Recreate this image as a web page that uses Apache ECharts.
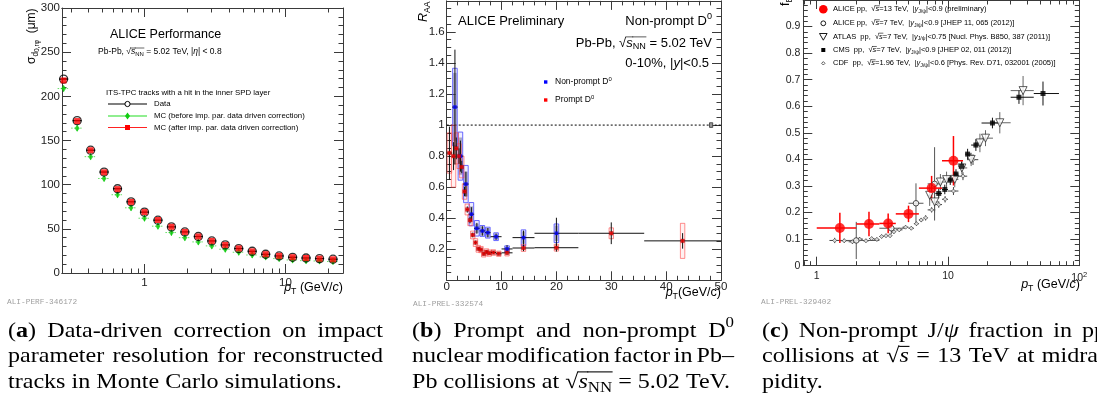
<!DOCTYPE html>
<html><head><meta charset="utf-8">
<script src="https://cdn.jsdelivr.net/npm/echarts@6/dist/echarts.min.js"></script>
<style>html,body{margin:0;padding:0;background:#fff}#c{width:1097px;height:417px}</style>
</head><body><div id="c"></div>
<script>
// ---------------- Panel (a): impact parameter resolution ----------------
const A_PT = [0.267,0.333,0.415,0.517,0.644,0.803,1.0,1.246,1.553,1.934,2.41,3.003,3.742,4.663,5.81,7.24,9.02,11.24,14.0,17.45,21.74];
const A_DATA = [219.5,172.5,139,114.3,95.4,80.6,68.9,59.8,52.2,46.5,41.3,36.3,31.8,27.7,24.6,21.2,19.3,17.8,17.0,16.3,15.6];
const A_MC_AFTER = [218,172,139,114,95,80.5,69,60,52.3,46.5,41.3,36.3,31.8,27.8,24.5,21.3,19.4,17.9,17.0,16.2,15.5];
const A_MC_BEFORE = [208.8,164,131.7,107,88.6,73.8,62,53,45.8,40,35.2,30.7,26.9,23.5,20.4,18.2,16.3,14.8,14.0,13.6,13.0];
const A_X_RANGE = [0.26, 25.6];
const A_X_MAJOR = [1, 10];
const A_X_LABELS = ['1', '10'];
const A_X_MINOR = [0.3,0.4,0.5,0.6,0.7,0.8,0.9,2,3,4,5,6,7,8,9,20];

// ---------------- Panel (b): D0 RAA ----------------
const B_PR_PT = [0.5,1.25,1.75,2.25,2.75,3.25,3.75,4.25,4.75,5.25,5.75,6.25,6.75,7.25,7.75,8.5,9.5,11,14,20,30,43];
const B_PR_LO = [0,1,1.5,2,2.5,3,3.5,4,4.5,5,5.5,6,6.5,7,7.5,8,9,10,12,16,24,36];
const B_PR_HI = [1,1.5,2,2.5,3,3.5,4,4.5,5,5.5,6,6.5,7,7.5,8,9,10,12,16,24,36,50];
const B_PR_R = [0.82,0.80,0.85,0.80,0.73,0.572,0.456,0.387,0.292,0.243,0.203,0.198,0.17,0.183,0.175,0.179,0.171,0.177,0.208,0.21,0.303,0.254];
const B_PR_STAT = [0.17,0.09,0.07,0.05,0.04,0.03,0.02,0.02,0.015,0.012,0.01,0.01,0.01,0.01,0.01,0.01,0.01,0.012,0.02,0.025,0.07,0.05];
const B_PR_SYS = [0.13,0.2,0.1,0.08,0.07,0.05,0.035,0.035,0.025,0.025,0.022,0.02,0.02,0.02,0.02,0.018,0.017,0.02,0.022,0.022,0.035,0.113];
const B_NP_PT = [1.5,2.5,3.5,4.5,5.5,6.5,7.5,9,11,14,20];
const B_NP_LO = [1,2,3,4,5,6,7,8,10,12,16];
const B_NP_HI = [2,3,4,5,6,7,8,10,12,16,24];
const B_NP_R = [1.116,0.80,0.62,0.426,0.335,0.318,0.307,0.281,0.202,0.275,0.303];
const B_NP_STAT = [0.37,0.1,0.08,0.045,0.035,0.03,0.03,0.02,0.025,0.045,0.1];
const B_NP_SYS = [0.25,0.155,0.12,0.075,0.05,0.035,0.035,0.025,0.02,0.05,0.06];
const B_NP_SYS2 = [0.22,0.12,0.08,0.05,0.03,0.03,0.03,0.02,0.015,0.04,0.05];
const B_NORM = {pt: 48.2, unc: 0.015};

// ---------------- Panel (c): non-prompt J/psi fraction ----------------
const C_X_RANGE = [0.79, 100];
const C_X_MAJOR = [1, 10, 100];
const C_X_MINOR = [0.8,0.9,2,3,4,5,6,7,8,9,20,30,40,50,60,70,80,90];
const C_A13_PT = [1.5,2.5,3.5,5,7.5,11];
const C_A13_LO = [1,2,3,4,6,9];
const C_A13_HI = [2,3,4,6,9,13];
const C_A13_F = [0.142,0.157,0.159,0.195,0.292,0.395];
const C_A13_ERR = [0.057,0.046,0.037,0.031,0.046,0.093];
const C_A7_PT = [2.0,3.7,5.7,7.9];
const C_A7_LO = [1.3,3.0,5.0,7.0];
const C_A7_HI = [3.0,4.7,6.5,9.0];
const C_A7_F = [0.095,0.141,0.235,0.308];
const C_A7_ERR = [0.07,0.022,0.075,0.138];
const C_ATLAS_PT = [7.25,7.9,8.75,9.75,11.25,12.75,15.0,17.5,19.3,24.8,37.3];
const C_ATLAS_LO = [7,7.5,8.5,9.5,10.5,12,14,16,18,22,30];
const C_ATLAS_HI = [7.5,8.5,9.5,10.5,12,14,16,18,22,30,45];
const C_ATLAS_F = [0.265,0.24,0.315,0.324,0.325,0.368,0.40,0.462,0.48,0.538,0.659];
const C_ATLAS_ERR = [0.04,0.04,0.03,0.03,0.03,0.025,0.025,0.035,0.03,0.04,0.055];
const C_CMS_PT = [8.5,9.45,10.4,11.5,12.7,14.1,16.3,21.8,34.7,52.9];
const C_CMS_LO = [8,9,10,11,12,13.5,15,18,30,45];
const C_CMS_HI = [9,10,11,12,13.5,15,18,25.5,45,70];
const C_CMS_F = [0.272,0.287,0.322,0.345,0.374,0.42,0.454,0.537,0.634,0.648];
const C_CMS_ERR = [0.018,0.018,0.018,0.018,0.018,0.02,0.022,0.02,0.025,0.045];
const C_CDF_PT = [1.37,1.62,1.87,2.12,2.37,2.62,2.87,3.12,3.37,3.62,3.87,4.25,4.75,5.25,5.75,6.25,6.75,7.5,8.5,9.5,11.0,13.0,15.5];
const C_CDF_LO = [1.25,1.5,1.75,2,2.25,2.5,2.75,3,3.25,3.5,3.75,4,4.5,5,5.5,6,6.5,7,8,9,10,12,14];
const C_CDF_HI = [1.5,1.75,2,2.25,2.5,2.75,3,3.25,3.5,3.75,4,4.5,5,5.5,6,6.5,7,8,9,10,12,14,17];
const C_CDF_F = [0.095,0.094,0.090,0.100,0.094,0.102,0.099,0.110,0.113,0.113,0.128,0.135,0.145,0.141,0.158,0.172,0.180,0.210,0.230,0.250,0.281,0.337,0.399];
const C_CDF_ERR = [0.01,0.008,0.008,0.008,0.007,0.007,0.007,0.007,0.007,0.007,0.008,0.007,0.007,0.007,0.008,0.008,0.01,0.01,0.012,0.012,0.015,0.015,0.02];

// ---------------- helpers ----------------
const FRAME = '#3a3a3a', LBL = '#222';
const SANS = '"Liberation Sans", Arial, sans-serif';
const SERIF = '"Liberation Serif", "Times New Roman", serif';
const MONO = '"Liberation Mono", monospace';
const L10 = v => Math.log10(v);
const meas = document.createElement('canvas').getContext('2d');
function fontStr(st){ return (st.style||'normal')+' '+(st.weight||'normal')+' '+st.size+'px '+st.family; }
function styles(size, fam, sx){
  return {sx: sx||1, n:{size,family:fam}, i:{size,family:fam,style:'italic'}, b:{size,family:fam,weight:'bold'},
    sub:{size:size*0.7,family:fam,dy:size*0.28}, sub2:{size:size*0.55,family:fam,dy:size*0.45},
    sup:{size:size*0.7,family:fam,dy:-size*0.36}};
}
const G = [];
function segW(s, S){ meas.font=fontStr(S[s.k||'n']); return meas.measureText(s.t).width*S.sx; }
function segsWidth(segs, S){ let w=0; for(const s of segs) w+=segW(s,S); return w; }
function drawSegs(x, y, segs, S, opt){
  opt = opt||{}; const out = opt.out||G; const col = opt.color||'#000';
  let cx = opt.align==='right' ? x - segsWidth(segs,S) : x;
  for (const s of segs){
    const st = S[s.k||'n']; const w = segW(s,S);
    out.push({type:'text', x:cx, y:y+(st.dy||0), scaleX:S.sx, silent:true, z:100,
      style:{text:s.t, font:fontStr(st), fill:col, textAlign:'left', textVerticalAlign:'middle', align:'left', verticalAlign:'middle'}});
    if (s.ov){ const oy = y - S.n.size*0.47;
      out.push({type:'line', silent:true, z:100, shape:{x1:cx-0.5,y1:oy,x2:cx+w+0.5,y2:oy}, style:{stroke:col, lineWidth:Math.max(0.6,S.n.size/20)}}); }
    cx += w;
  }
  return cx;
}
function rotSegs(x, y, segs, S){
  const ch = []; drawSegs(0, 0, segs, S, {out:ch});
  G.push({type:'group', x, y, rotation:Math.PI/2, children:ch, silent:true});
}
const W = s => [{t:s}];
function wordsOf(str){ return str.split(' ').map(W); }
function justLine(x0, x1, y, words, S){
  const ws = words.map(w => segsWidth(w,S)); const tot = ws.reduce((a,b)=>a+b,0);
  const gap = (x1-x0-tot)/(words.length-1); let cx = x0;
  words.forEach((w,i)=>{ drawSegs(cx,y,w,S); cx += ws[i]+gap; });
}
function natLine(x0, y, words, S){
  meas.font = fontStr(S.n); const sp = meas.measureText(' ').width*S.sx; let cx = x0;
  words.forEach(w=>{ cx = drawSegs(cx,y,w,S) + sp; });
}

// ---------------- texts ----------------
const S125 = styles(12.5, SANS), S13 = styles(13, SANS), S85 = styles(8.5, SANS), S78 = styles(7.8, SANS), S75 = styles(7.5, SANS);
const SMONO = {sx:1, n:{size:7.8,family:MONO}};
// panel a
drawSegs(110, 35, W('ALICE Performance'), S125);
drawSegs(98, 52, [{t:'Pb-Pb, √'},{t:'s',k:'i',ov:1},{t:'NN',k:'sub',ov:1},{t:' = 5.02 TeV, |'},{t:'η',k:'i'},{t:'| < 0.8'}], S85);
drawSegs(106, 93, W('ITS-TPC tracks with a hit in the inner SPD layer'), S78);
drawSegs(154, 104, W('Data'), S78);
drawSegs(154, 116, W('MC (before imp. par. data driven correction)'), S78);
drawSegs(154, 127.5, W('MC (after imp. par. data driven correction)'), S78);
drawSegs(343, 288, [{t:'p',k:'i'},{t:'T',k:'sub'},{t:' (GeV/'},{t:'c',k:'i'},{t:')'}], S125, {align:'right'});
rotSegs(32, 64, [{t:'σ'},{t:'d',k:'sub'},{t:'0,rφ',k:'sub2'},{t:'  (μm)'}], styles(12, SANS));
drawSegs(7, 302, W('ALI-PERF-346172'), SMONO, {color:'#a0a0a0'});
// panel b
drawSegs(458, 21, W('ALICE Preliminary'), S13);
drawSegs(712, 21, [{t:'Non-prompt D'},{t:'0',k:'sup'}], S13, {align:'right'});
drawSegs(712, 43, [{t:'Pb-Pb, √'},{t:'s',k:'i',ov:1},{t:'NN',k:'sub',ov:1},{t:' = 5.02 TeV'}], S13, {align:'right'});
drawSegs(709, 63, [{t:'0-10%, |'},{t:'y',k:'i'},{t:'|<0.5'}], S13, {align:'right'});
drawSegs(555, 82, [{t:'Non-prompt D'},{t:'0',k:'sup'}], S85);
drawSegs(555, 100, [{t:'Prompt D'},{t:'0',k:'sup'}], S85);
drawSegs(721, 293, [{t:'p',k:'i'},{t:'T',k:'sub'},{t:'(GeV/c)'}], S125, {align:'right'});
rotSegs(424, 22, [{t:'R',k:'i'},{t:'AA',k:'sub'}], styles(12.5, SANS));
drawSegs(413, 304, W('ALI-PREL-332574'), SMONO, {color:'#a0a0a0'});
// panel c
const cLeg = [
  [{t:'ALICE pp,  √'},{t:'s',k:'i',ov:1},{t:'=13 TeV,  |'},{t:'y',k:'i'},{t:'J/ψ',k:'sub'},{t:'|<0.9 (preliminary)'}],
  [{t:'ALICE pp,  √'},{t:'s',k:'i',ov:1},{t:'=7 TeV,  |'},{t:'y',k:'i'},{t:'J/ψ',k:'sub'},{t:'|<0.9 [JHEP 11, 065 (2012)]'}],
  [{t:'ATLAS  pp,  √'},{t:'s',k:'i',ov:1},{t:'=7 TeV,  |'},{t:'y',k:'i'},{t:'J/ψ',k:'sub'},{t:'|<0.75 [Nucl. Phys. B850, 387 (2011)]'}],
  [{t:'CMS  pp,  √'},{t:'s',k:'i',ov:1},{t:'=7 TeV,  |'},{t:'y',k:'i'},{t:'J/ψ',k:'sub'},{t:'|<0.9 [JHEP 02, 011 (2012)]'}],
  [{t:'CDF  pp,  √'},{t:'s',k:'i',ov:1},{t:'=1.96 TeV,  |'},{t:'y',k:'i'},{t:'J/ψ',k:'sub'},{t:'|<0.6 [Phys. Rev. D71, 032001 (2005)]'}]
];
const cLegY = [9.3, 23.3, 36.7, 50, 63.3];
cLeg.forEach((l,i)=>drawSegs(833, cLegY[i], l, S75));
drawSegs(1080, 285, [{t:'p',k:'i'},{t:'T',k:'sub'},{t:' (GeV/'},{t:'c',k:'i'},{t:')'}], S125, {align:'right'});
rotSegs(786, 6, [{t:'f'},{t:'B',k:'sub'}], styles(12.5, SANS));
drawSegs(761, 302, W('ALI-PREL-329402'), SMONO, {color:'#a0a0a0'});

// legend symbols (graphic decorations)
G.push({type:'line', shape:{x1:108,y1:104,x2:147,y2:104}, style:{stroke:'#000',lineWidth:1.2}, silent:true});
G.push({type:'circle', shape:{cx:127.5,cy:104,r:2.6}, style:{fill:'#fff',stroke:'#000',lineWidth:1}, silent:true});
G.push({type:'line', shape:{x1:108,y1:116,x2:147,y2:116}, style:{stroke:'#22dd22',lineWidth:1.2}, silent:true});
G.push({type:'polygon', shape:{points:[[127.5,112.5],[130,116],[127.5,119.5],[125,116]]}, style:{fill:'#11cc11'}, silent:true});
G.push({type:'line', shape:{x1:108,y1:127.5,x2:147,y2:127.5}, style:{stroke:'#ff2222',lineWidth:1.2}, silent:true});
G.push({type:'rect', shape:{x:125,y:125,width:5,height:5}, style:{fill:'#ff0000'}, silent:true});
G.push({type:'rect', shape:{x:544,y:80.3,width:3.4,height:3.4}, style:{fill:'#0000ff'}, silent:true});
G.push({type:'rect', shape:{x:544,y:98.3,width:3.4,height:3.4}, style:{fill:'#ff0000'}, silent:true});
G.push({type:'circle', shape:{cx:823.3,cy:9.3,r:4.3}, style:{fill:'#ff0000'}, silent:true});
G.push({type:'circle', shape:{cx:823.3,cy:23.3,r:2.4}, style:{fill:'#fff',stroke:'#000',lineWidth:0.9}, silent:true});
G.push({type:'polygon', shape:{points:[[819.5,33.5],[827.1,33.5],[823.3,40.2]]}, style:{fill:'#fff',stroke:'#000',lineWidth:0.9}, silent:true});
G.push({type:'rect', shape:{x:821.3,y:48,width:4,height:4}, style:{fill:'#000'}, silent:true});
G.push({type:'polygon', shape:{points:[[823.3,61.6],[825,63.3],[823.3,65],[821.6,63.3]]}, style:{fill:'#fff',stroke:'#333',lineWidth:0.8}, silent:true});

// ---------------- captions ----------------
const CS = styles(21.5, SERIF, 1.12);
const capY = [331, 356.5, 382];
justLine(8, 383, capY[0], [[{t:'('},{t:'a',k:'b'},{t:')'}]].concat(wordsOf('Data-driven correction on impact')), CS);
justLine(8, 383, capY[1], wordsOf('parameter resolution for reconstructed'), CS);
natLine(8, capY[2], wordsOf('tracks in Monte Carlo simulations.'), CS);
justLine(412, 734, capY[0], [[{t:'('},{t:'b',k:'b'},{t:')'}], W('Prompt'), W('and'), W('non-prompt'), [{t:'D'},{t:'0',k:'sup'}]], CS);
justLine(412, 734, capY[1], wordsOf('nuclear modification factor in Pb–'), CS);
natLine(412, capY[2], [W('Pb'), W('collisions'), W('at'), [{t:'√'},{t:'s',k:'i',ov:1},{t:'NN',k:'sub',ov:1}], W('='), W('5.02'), W('TeV.')], CS);
justLine(762, 1106, capY[0], [[{t:'('},{t:'c',k:'b'},{t:')'}], W('Non-prompt'), [{t:'J/'},{t:'ψ',k:'i'}], W('fraction'), W('in'), W('pp')], CS);
justLine(762, 1106, capY[1], [W('collisions'), W('at'), [{t:'√'},{t:'s',k:'i',ov:1}], W('='), W('13'), W('TeV'), W('at'), W('midra-')], CS);
natLine(762, capY[2], wordsOf('pidity.'), CS);

// ---------------- axes ----------------
function axis(o){
  return Object.assign({type:'value', splitLine:{show:false}, axisPointer:{show:false},
    axisLine:{show:true, onZero:false, lineStyle:{color:FRAME, width:1}},
    axisTick:{show:false}, minorTick:{show:false}, axisLabel:{show:false}}, o);
}
const tickM = (extra) => Object.assign({show:true, inside:true, length:9, lineStyle:{color:FRAME, width:1}}, extra||{});
const minorT = (n) => ({show:true, splitNumber:n, length:4.5, lineStyle:{color:FRAME, width:1}});
const lab = (extra) => Object.assign({show:true, color:LBL, fontFamily:SANS, fontSize:11.5}, extra);

const aMin = L10(A_X_RANGE[0]), aMax = L10(A_X_RANGE[1]);
const cMin = L10(C_X_RANGE[0]), cMax = L10(C_X_RANGE[1]);

const grids = [
  {left:62, top:8, width:281, height:265},
  {left:62, top:8, width:281, height:265},
  {left:446.7, top:0.9, width:274.3, height:279.4},
  {left:803.3, top:-3.6, width:276, height:269.3},
  {left:803.3, top:-3.6, width:276, height:269.3}
];
const xAxes = [
  axis({gridIndex:0, position:'bottom', min:aMin, max:aMax, axisTick:tickM({customValues:A_X_MAJOR.map(L10)}),
        axisLabel:lab({customValues:A_X_MAJOR.map(L10), margin:4, formatter:v=>A_X_LABELS[Math.round(v)]})}),
  axis({gridIndex:0, position:'top', min:aMin, max:aMax, axisTick:tickM({customValues:A_X_MAJOR.map(L10)})}),
  axis({gridIndex:1, position:'bottom', min:aMin, max:aMax, axisTick:tickM({length:4.5, customValues:A_X_MINOR.map(L10)})}),
  axis({gridIndex:1, position:'top', min:aMin, max:aMax, axisTick:tickM({length:4.5, customValues:A_X_MINOR.map(L10)})}),
  axis({gridIndex:2, position:'bottom', min:0, max:50, interval:10, axisTick:tickM(), minorTick:minorT(5), axisLabel:lab({margin:1})}),
  axis({gridIndex:2, position:'top', min:0, max:50, interval:10, axisTick:tickM(), minorTick:minorT(5)}),
  axis({gridIndex:3, position:'bottom', min:cMin, max:cMax, axisTick:tickM({customValues:C_X_MAJOR.map(L10)}),
        axisLabel:lab({customValues:C_X_MAJOR.map(L10), margin:5, fontSize:10.5,
          formatter:v=>{const k=Math.round(v); return k<2 ? String(Math.pow(10,k)) : '10{s|'+k+'}';},
          rich:{s:{fontSize:7.5, fontFamily:SANS, color:LBL, verticalAlign:'top', padding:[0,0,6,0]}}})}),
  axis({gridIndex:3, position:'top', min:cMin, max:cMax, axisTick:tickM({customValues:C_X_MAJOR.map(L10)})}),
  axis({gridIndex:4, position:'bottom', min:cMin, max:cMax, axisTick:tickM({length:4.5, customValues:C_X_MINOR.map(L10)})}),
  axis({gridIndex:4, position:'top', min:cMin, max:cMax, axisTick:tickM({length:4.5, customValues:C_X_MINOR.map(L10)})})
];
const yAxes = [
  axis({gridIndex:0, position:'left', min:0, max:300, interval:50, axisTick:tickM(), minorTick:minorT(5), axisLabel:lab({margin:2})}),
  axis({gridIndex:0, position:'right', min:0, max:300, interval:50, axisTick:tickM(), minorTick:minorT(5)}),
  axis({gridIndex:1, show:false, min:0, max:1}),
  axis({gridIndex:2, position:'left', min:0, max:1.8, interval:0.2, axisTick:tickM(), minorTick:minorT(4),
        axisLabel:lab({margin:2, formatter:v=> (v<0.01||v>1.7) ? '' : String(+v.toFixed(1))})}),
  axis({gridIndex:2, position:'right', min:0, max:1.8, interval:0.2, axisTick:tickM(), minorTick:minorT(4)}),
  axis({gridIndex:3, position:'left', min:0, max:1, interval:0.1, axisTick:tickM(), minorTick:minorT(5),
        axisLabel:lab({margin:3, fontSize:10.5, formatter:v=> v<0.01 ? '0' : (v>0.95 ? '' : v.toFixed(1))})}),
  axis({gridIndex:3, position:'right', min:0, max:1, interval:0.1, axisTick:tickM(), minorTick:minorT(5)}),
  axis({gridIndex:4, show:false, min:0, max:1})
];

// ---------------- series builders ----------------
function errSeries(xi, yi, rows, o){
  return {type:'custom', xAxisIndex:xi, yAxisIndex:yi, data:rows, silent:true, z:o.z||3,
    renderItem:function(p, api){
      const x=api.value(0), y=api.value(1), c=api.coord([x,y]); const ch=[];
      const st={stroke:o.color, lineWidth:o.width||1, lineDash:o.dash||null};
      if (o.hpx) ch.push({type:'line', shape:{x1:c[0]-o.hpx,y1:c[1],x2:c[0]+o.hpx,y2:c[1]}, style:st});
      else { const a=api.coord([api.value(2),y]), b=api.coord([api.value(3),y]); ch.push({type:'line', shape:{x1:a[0],y1:a[1],x2:b[0],y2:b[1]}, style:st}); }
      if (o.vpx) ch.push({type:'line', shape:{x1:c[0],y1:c[1]-o.vpx,x2:c[0],y2:c[1]+o.vpx}, style:{stroke:o.vcolor||o.color, lineWidth:o.width||1}});
      else if (o.hpx===undefined){ const a=api.coord([x,api.value(4)]), b=api.coord([x,api.value(5)]); ch.push({type:'line', shape:{x1:a[0],y1:a[1],x2:b[0],y2:b[1]}, style:st}); }
      return {type:'group', children:ch};
    }};
}
function boxSeries(xi, yi, rows, halfPx, style, z){
  return {type:'custom', xAxisIndex:xi, yAxisIndex:yi, data:rows, silent:true, z:z||2,
    renderItem:function(p, api){
      const a=api.coord([api.value(0), api.value(1)]), b=api.coord([api.value(0), api.value(2)]);
      return {type:'rect', shape:{x:a[0]-halfPx, y:b[1], width:2*halfPx, height:a[1]-b[1]}, style:style};
    }};
}
function scat(xi, yi, rows, o){
  return Object.assign({type:'scatter', xAxisIndex:xi, yAxisIndex:yi, data:rows, silent:true, z:5, clip:false}, o);
}

const aDataRows = A_PT.map((x,i)=>[L10(x), A_DATA[i]]);
const aAfterRows = A_PT.map((x,i)=>[L10(x), A_MC_AFTER[i]]);
const aBeforeRows = A_PT.map((x,i)=>[L10(x), A_MC_BEFORE[i]]);
const bPrErr = B_PR_PT.map((x,i)=>[x, B_PR_R[i], B_PR_LO[i], B_PR_HI[i], B_PR_R[i]-B_PR_STAT[i], B_PR_R[i]+B_PR_STAT[i]]);
const bPrBox = B_PR_PT.map((x,i)=>[x, B_PR_R[i]-B_PR_SYS[i], B_PR_R[i]+B_PR_SYS[i]]);
const bNpErr = B_NP_PT.map((x,i)=>[x, B_NP_R[i], B_NP_LO[i], B_NP_HI[i], B_NP_R[i]-B_NP_STAT[i], B_NP_R[i]+B_NP_STAT[i]]);
const bNpBox = B_NP_PT.map((x,i)=>[x, B_NP_R[i]-B_NP_SYS[i], B_NP_R[i]+B_NP_SYS[i]]);
const bNpBox2 = B_NP_PT.map((x,i)=>[x, B_NP_R[i]-B_NP_SYS2[i], B_NP_R[i]+B_NP_SYS2[i]]);
const cRows = (pt, lo, hi, f, e) => pt.map((x,i)=>[L10(x), f[i], L10(lo[i]), L10(hi[i]), f[i]-e[i], f[i]+e[i]]);
const cA13 = cRows(C_A13_PT, C_A13_LO, C_A13_HI, C_A13_F, C_A13_ERR);
const cA7 = cRows(C_A7_PT, C_A7_LO, C_A7_HI, C_A7_F, C_A7_ERR);
const cAt = cRows(C_ATLAS_PT, C_ATLAS_LO, C_ATLAS_HI, C_ATLAS_F, C_ATLAS_ERR);
const cCms = cRows(C_CMS_PT, C_CMS_LO, C_CMS_HI, C_CMS_F, C_CMS_ERR);
const cCdf = cRows(C_CDF_PT, C_CDF_LO, C_CDF_HI, C_CDF_F, C_CDF_ERR);

const series = [
  errSeries(0,0,aBeforeRows,{color:'#66dd66', hpx:6, dash:[1.5,1.5], vpx:3, vcolor:'#11cc11', z:3}),
  scat(0,0,aBeforeRows,{symbol:'diamond', symbolSize:[5,7], itemStyle:{color:'#11cc11'}}),
  errSeries(0,0,aDataRows,{color:'#000', hpx:4.5, vpx:0.01, width:1.3, z:4}),
  scat(0,0,aDataRows,{symbol:'circle', symbolSize:8, itemStyle:{color:'rgba(0,0,0,0)', borderColor:'#000', borderWidth:1.3}, z:6}),
  scat(0,0,aAfterRows,{symbol:'rect', symbolSize:6, itemStyle:{color:'#ff0000'}, z:7}),
  {type:'line', xAxisIndex:4, yAxisIndex:3, data:[[0,1],[50,1]], symbol:'none', silent:true, z:1,
   lineStyle:{color:'#000', width:1, type:[2,2]}},
  boxSeries(4,3,[[B_NORM.pt, 1-B_NORM.unc, 1+B_NORM.unc]], 1.6, {fill:'#999', stroke:'#333', lineWidth:0.8}, 3),
  boxSeries(4,3,bNpBox2, 1.8, {fill:'rgba(95,95,120,0.5)'}, 2),
  boxSeries(4,3,bNpBox, 2.3, {fill:'rgba(120,120,255,0.12)', stroke:'rgba(70,70,255,0.8)', lineWidth:1}, 2),
  boxSeries(4,3,bPrBox, 2.2, {fill:'rgba(255,0,0,0.05)', stroke:'rgba(255,70,70,0.6)', lineWidth:1}, 2),
  errSeries(4,3,bNpErr,{color:'#111', width:1, z:3}),
  errSeries(4,3,bPrErr,{color:'#111', width:1, z:3}),
  scat(4,3,B_NP_PT.map((x,i)=>[x,B_NP_R[i]]),{symbol:'rect', symbolSize:3.6, itemStyle:{color:'#0000ff'}}),
  scat(4,3,B_PR_PT.map((x,i)=>[x,B_PR_R[i]]),{symbol:'rect', symbolSize:3.6, itemStyle:{color:'#ff0000', borderColor:'#700', borderWidth:0.4}}),
  errSeries(6,5,cCdf,{color:'#444', width:1, z:3}),
  scat(6,5,cCdf.map(r=>[r[0],r[1]]),{symbol:'diamond', symbolSize:4, itemStyle:{color:'#fff', borderColor:'#333', borderWidth:0.8}}),
  errSeries(6,5,cAt,{color:'#666', width:1, z:3}),
  scat(6,5,cAt.map(r=>[r[0],r[1]]),{symbol:'triangle', symbolRotate:180, symbolSize:8, itemStyle:{color:'#fff', borderColor:'#222', borderWidth:0.9}}),
  errSeries(6,5,cA7,{color:'#555', width:1, z:3}),
  scat(6,5,cA7.map(r=>[r[0],r[1]]),{symbol:'circle', symbolSize:5.5, itemStyle:{color:'#fff', borderColor:'#111', borderWidth:0.9}}),
  errSeries(6,5,cCms,{color:'#111', width:1, z:3}),
  scat(6,5,cCms.map(r=>[r[0],r[1]]),{symbol:'rect', symbolSize:5, itemStyle:{color:'#000'}}),
  errSeries(6,5,cA13,{color:'#ff0000', width:1.5, z:4}),
  scat(6,5,cA13.map(r=>[r[0],r[1]]),{symbol:'circle', symbolSize:10, itemStyle:{color:'#ff0000'}, z:8})
];

const chart = echarts.init(document.getElementById('c'), null, {renderer:'canvas'});
chart.setOption({animation:false, backgroundColor:'#fff', tooltip:{show:false},
  grid:grids, xAxis:xAxes, yAxis:yAxes, series:series, graphic:G});
</script></body></html>
